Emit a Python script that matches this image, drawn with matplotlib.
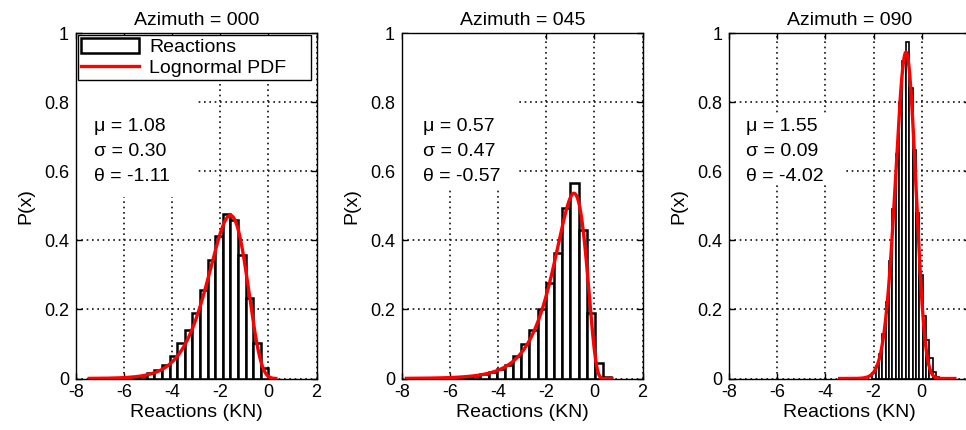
import numpy as np
import matplotlib
matplotlib.use("Agg")
import matplotlib.pyplot as plt
from matplotlib.patches import Rectangle

plt.rcParams["font.family"] = ["Liberation Sans", "DejaVu Sans"]
plt.rcParams["axes.unicode_minus"] = False

# ---- data -------------------------------------------------------------
azimuths = ["000", "045", "090"]

# fitted (reflected) lognormal parameters
mu = [1.08, 0.57, 1.55]
sigma = [0.30, 0.47, 0.09]
theta = [-1.11, -0.57, -4.02]

# histogram bins: first edge, bin width, normalised counts
bin_start = [-5.69, -5.76, -2.06]
bin_width = [0.316, 0.34, 0.14]
heights_000 = [0.003, 0.007, 0.015, 0.025, 0.039, 0.065, 0.102, 0.140, 0.189,
               0.256, 0.343, 0.412, 0.476, 0.459, 0.357, 0.232, 0.102, 0.030]
heights_045 = [0.003, 0.005, 0.008, 0.012, 0.018, 0.027, 0.040, 0.065, 0.100,
               0.141, 0.200, 0.275, 0.363, 0.493, 0.565, 0.430, 0.190, 0.044,
               0.005]
heights_090 = [0.015, 0.035, 0.070, 0.130, 0.220, 0.340, 0.490, 0.650, 0.800,
               0.920, 0.975, 0.840, 0.660, 0.480, 0.300, 0.180, 0.110, 0.060,
               0.020, 0.005]
heights = [heights_000, heights_045, heights_090]

# x-range over which each fitted PDF is evaluated
pdf_range = [[-7.45, 0.31], [-7.82, 0.73], [-3.41, 1.38]]

x_ticks = [-8, -6, -4, -2, 0, 2]
y_ticks = [0, 0.2, 0.4, 0.6, 0.8, 1]
y_tick_labels = ["0", "0.2", "0.4", "0.6", "0.8", "1"]


def reflected_lognormal_pdf(x, m, s, t):
    """Lognormal density of y = -x - t."""
    y = -x - t
    out = np.zeros_like(x)
    ok = y > 0
    yy = y[ok]
    out[ok] = np.exp(-(np.log(yy) - m) ** 2 / (2 * s ** 2)) / (yy * s * np.sqrt(2 * np.pi))
    return out


# ---- layout -----------------------------------------------------------
W, H = 966, 430
fig = plt.figure(figsize=(W / 100, H / 100), dpi=100)

left_px = [76, 402, 729.3]
width_px = 240.5
bottom_px, top_px = 378.5, 33
edge_lw = [1.8, 1.8, 1.2]
# white backing behind the parameter text (axes fraction: x0, y0, x1, y1)
text_boxes = [(0.004, 0.526, 0.506, 0.852),
              (0.004, 0.550, 0.483, 0.996),
              (0.004, 0.560, 0.475, 0.760)]
text_x = [-7.25, -7.14, -7.30]

FS = 14
TICK_FS = 13

for i in range(3):
    ax = fig.add_axes([left_px[i] / W, (H - bottom_px) / H,
                       width_px / W, (bottom_px - top_px) / H])
    ax.set_axisbelow(True)

    h = np.array(heights[i])
    edges = bin_start[i] + bin_width[i] * np.arange(len(h))
    bars = ax.bar(edges, h, width=bin_width[i], align="edge", facecolor="white",
                  edgecolor="black", linewidth=edge_lw[i], label="Reactions",
                  zorder=2)

    xs = np.linspace(pdf_range[i][0], pdf_range[i][1], 600)
    line, = ax.plot(xs, reflected_lognormal_pdf(xs, mu[i], sigma[i], theta[i]),
                    color="red", linewidth=2.4, label="Lognormal PDF", zorder=3)

    ax.set_xlim(-8, 2)
    ax.set_ylim(0, 1)
    ax.set_xticks(x_ticks)
    ax.set_yticks(y_ticks)
    ax.set_yticklabels(y_tick_labels)
    ax.tick_params(direction="in", length=4, width=1.0, top=True, right=True,
                   labelsize=TICK_FS, colors="black")
    ax.tick_params(axis="x", pad=4)
    ax.tick_params(axis="y", pad=5)
    for sp in ax.spines.values():
        sp.set_linewidth(1.0)
        sp.set_color("black")

    ax.grid(True, color="#111111", linestyle=(0, (1, 2.2)), linewidth=1.2)

    x0, y0, x1, y1 = text_boxes[i]
    ax.add_patch(Rectangle((x0, y0), x1 - x0, y1 - y0, transform=ax.transAxes,
                           facecolor="white", edgecolor="none", zorder=1))

    ax.set_title(f"Azimuth = {azimuths[i]}", fontsize=FS, pad=6)
    ax.set_xlabel("Reactions (KN)", fontsize=FS, labelpad=2)
    ax.set_ylabel("P(x)", fontsize=FS, labelpad=7)

    lines = [f"\u03bc = {mu[i]:.2f}", f"\u03c3 = {sigma[i]:.2f}",
             f"\u03b8 = {theta[i]:.2f}"]
    for k, s in enumerate(lines):
        ax.text(text_x[i], 0.728 - 0.071 * k, s, fontsize=FS, ha="left",
                va="center", zorder=4)

    if i == 0:
        leg = ax.legend([bars, line], ["Reactions", "Lognormal PDF"],
                        loc="upper left", bbox_to_anchor=(0.008, 0.85, 0.971, 0.144),
                        mode="expand", borderaxespad=0, fontsize=FS,
                        handlelength=3.0, handleheight=0.85, handletextpad=0.5,
                        borderpad=0.15, labelspacing=0.1, fancybox=False,
                        framealpha=1)
        leg.get_frame().set_edgecolor("black")
        leg.get_frame().set_linewidth(1.0)
        leg.set_zorder(5)

fig.savefig("out.png", dpi=100)
